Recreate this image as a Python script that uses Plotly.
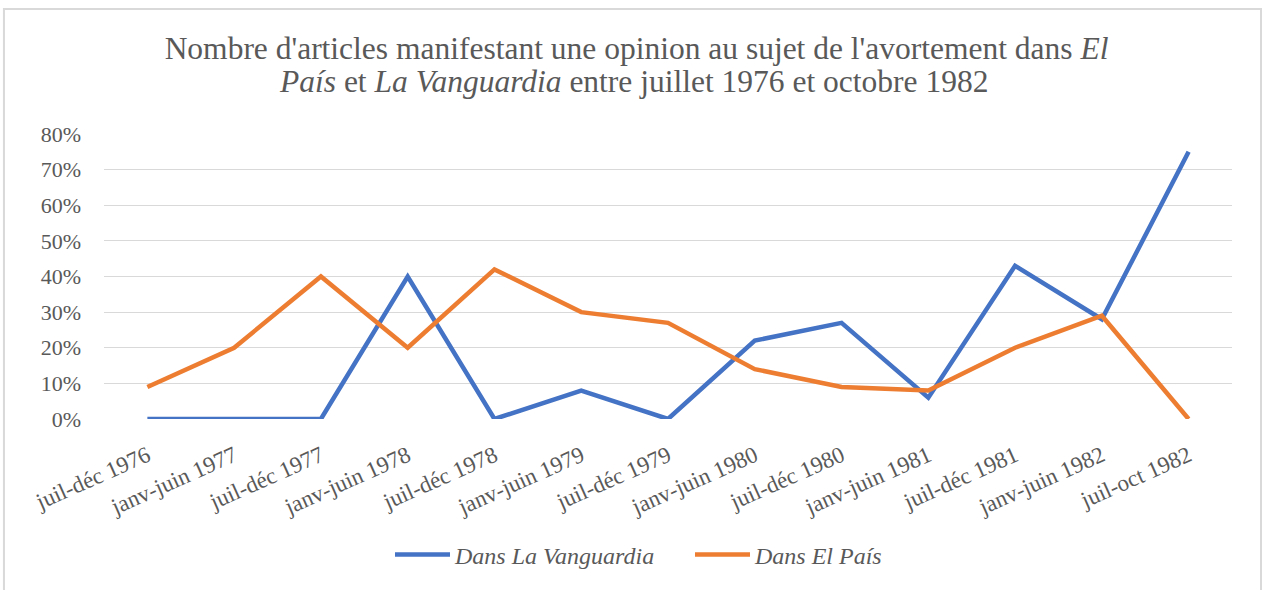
import plotly.graph_objects as go

categories = ["juil-déc 1976", "janv-juin 1977", "juil-déc 1977", "janv-juin 1978",
              "juil-déc 1978", "janv-juin 1979", "juil-déc 1979", "janv-juin 1980",
              "juil-déc 1980", "janv-juin 1981", "juil-déc 1981", "janv-juin 1982",
              "juil-oct 1982"]
vanguardia = [0.00, 0.00, 0.00, 0.40, 0.00, 0.08, 0.00, 0.22, 0.27, 0.06, 0.43, 0.28, 0.75]
el_pais = [0.09, 0.20, 0.40, 0.20, 0.42, 0.30, 0.27, 0.14, 0.09, 0.08, 0.20, 0.29, 0.00]
y_ticks = [0, 0.1, 0.2, 0.3, 0.4, 0.5, 0.6, 0.7, 0.8]
title_line1 = "Nombre d'articles manifestant une opinion au sujet de l'avortement dans <i>El</i>"
title_line2 = "<i>País</i> et <i>La Vanguardia</i> entre juillet 1976 et octobre 1982"

FONT = "Liberation Serif"
GREY = "#595959"

fig = go.Figure()
fig.add_trace(go.Scatter(x=categories, y=vanguardia, mode="lines",
                         name="<i>Dans La Vanguardia</i>",
                         line=dict(color="#4472C4", width=4.5)))
fig.add_trace(go.Scatter(x=categories, y=el_pais, mode="lines",
                         name="<i>Dans El País</i>",
                         line=dict(color="#ED7D31", width=4.5)))

fig.update_layout(
    width=1263, height=590,
    margin=dict(l=104, r=31, t=134, b=169),
    paper_bgcolor="white", plot_bgcolor="white",
    font=dict(family=FONT, color=GREY, size=20),
    title=dict(
        text=title_line1,
        x=0.504, xanchor="center", y=0.918, yanchor="middle", yref="container",
        font=dict(family=FONT, size=31.5, color=GREY)),
    annotations=[dict(text=title_line2, xref="paper", yref="paper",
                      x=0.4694, xanchor="center", y=1.1847, yanchor="middle",
                      showarrow=False, font=dict(family=FONT, size=31.5, color=GREY))],
    showlegend=True,
    legend=dict(orientation="h", x=0.5195, xanchor="center", y=-0.477, yanchor="middle",
                font=dict(family=FONT, size=24, color=GREY), itemwidth=55,
                entrywidth=230, traceorder="normal"),
    xaxis=dict(type="category", range=[-0.5, 12.5], showgrid=False, showline=False,
               ticks="", tickangle=-24, ticklabelstandoff=18,
               tickfont=dict(family=FONT, size=23, color=GREY),
               zeroline=False),
    yaxis=dict(range=[0, 0.8], tickvals=y_ticks, tickformat=".0%",
               showgrid=True, gridcolor="#D9D9D9", gridwidth=1.3,
               zeroline=False, showline=False, ticks="",
               ticklabelstandoff=22,
               tickfont=dict(family=FONT, size=22, color=GREY)),
    shapes=[dict(type="rect", xref="paper", yref="paper",
                 x0=-0.0887, x1=1.0257, y0=-0.62, y1=1.439,
                 line=dict(color="#D9D9D9", width=2), layer="below")],
)

fig.write_html("out.html", config={"displayModeBar": False},
               post_script="document.body.style.margin='0';")
